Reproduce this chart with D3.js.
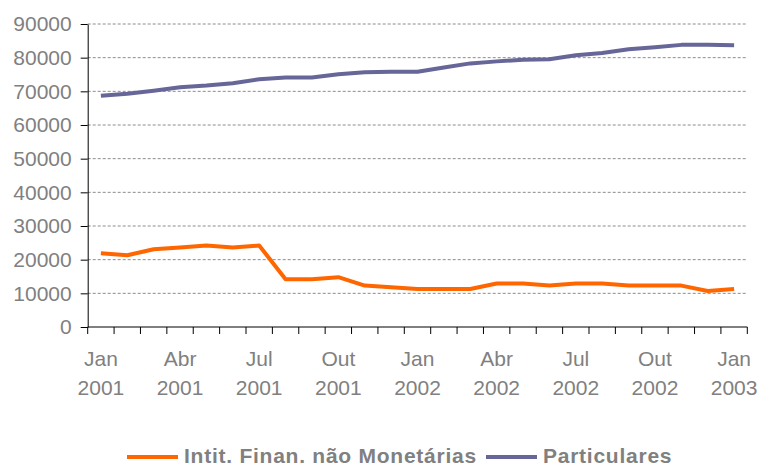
<!DOCTYPE html>
<html>
<head>
<meta charset="utf-8">
<script src="https://cdn.jsdelivr.net/npm/d3@7"></script>
<style>
	body { margin: 0; background: #fff; }
	text { font-family: "Liberation Sans", Arial, sans-serif; }
</style>
</head>
<body>
<svg id="chart" width="757" height="465"></svg>
<script>
// monthly categories, Jan 2001 - Jan 2003
var months = ["Jan","Fev","Mar","Abr","Mai","Jun","Jul","Ago","Set","Out","Nov","Dez"];
var categories = [];
for (var i = 0; i < 25; i++) {
	categories.push(months[i % 12] + " " + (2001 + Math.floor(i / 12)));
}

var tickLabels = ["Jan 2001","Abr 2001","Jul 2001","Out 2001","Jan 2002","Abr 2002","Jul 2002","Out 2002","Jan 2003"];

var intitFinan = [21900, 21300, 23100, 23600, 24200, 23600, 24200, 14200, 14200, 14800,
	12300, 11800, 11300, 11300, 11300, 12900, 12900, 12300, 12900, 12900,
	12300, 12300, 12300, 10700, 11300];

var particulares = [68700, 69300, 70200, 71200, 71700, 72400, 73600, 74100, 74100, 75100,
	75700, 75800, 75800, 77100, 78300, 78900, 79400, 79500, 80700, 81400,
	82500, 83100, 83800, 83800, 83700];

var yTicks = [0, 10000, 20000, 30000, 40000, 50000, 60000, 70000, 80000, 90000];

var series = [
	{ name: "Intit. Finan. não Monetárias", values: intitFinan, color: "#ff6600" },
	{ name: "Particulares", values: particulares, color: "#666699" }
];

(function () {
	var svg = d3.select("#chart");
	var plotLeft = 87.7, plotRight = 747.3, plotTop = 24, plotBottom = 327;

	var x = d3.scaleBand().domain(categories).range([plotLeft, plotRight]);
	var y = d3.scaleLinear().domain([0, 90000]).range([plotBottom, plotTop]);

	// gridlines
	svg.append("g").selectAll("line")
		.data(yTicks.slice(1))
		.enter().append("line")
		.attr("x1", plotLeft).attr("x2", plotRight)
		.attr("y1", function (d) { return y(d); })
		.attr("y2", function (d) { return y(d); })
		.attr("stroke", "#8c8c8c")
		.attr("stroke-width", 1)
		.attr("stroke-dasharray", "3,2");

	// y axis
	var yAxis = svg.append("g")
		.attr("transform", "translate(" + plotLeft + ",0)")
		.call(d3.axisLeft(y).tickValues(yTicks).tickSize(7).tickSizeOuter(0).tickPadding(9).tickFormat(d3.format("d")));
	yAxis.select(".domain").attr("stroke", "#000");
	yAxis.selectAll(".tick line").attr("stroke", "#000");
	yAxis.selectAll("text").attr("fill", "#808080").style("font-size", "21px");

	// x axis: ticks between categories
	var bounds = categories.map(function (c) { return x(c); }).concat([plotRight]);
	var xg = svg.append("g");
	xg.append("line")
		.attr("x1", plotLeft).attr("x2", plotRight)
		.attr("y1", plotBottom).attr("y2", plotBottom)
		.attr("stroke", "#000");
	xg.selectAll("line.tk")
		.data(bounds)
		.enter().append("line")
		.attr("class", "tk")
		.attr("x1", function (d) { return d; }).attr("x2", function (d) { return d; })
		.attr("y1", plotBottom).attr("y2", plotBottom + 7)
		.attr("stroke", "#000");

	var lab = xg.selectAll("text.lab")
		.data(tickLabels)
		.enter().append("text")
		.attr("class", "lab")
		.attr("text-anchor", "middle")
		.attr("fill", "#808080")
		.style("font-size", "21px")
		.attr("transform", function (d) { return "translate(" + (x(d) + x.bandwidth() / 2) + ",0)"; });
	lab.append("tspan").attr("x", 0).attr("y", 366).text(function (d) { return d.split(" ")[0]; });
	lab.append("tspan").attr("x", 0).attr("y", 395).text(function (d) { return d.split(" ")[1]; });

	// lines
	var line = d3.line()
		.x(function (d, i) { return x(categories[i]) + x.bandwidth() / 2; })
		.y(function (d) { return y(d); });

	svg.selectAll("path.series")
		.data(series)
		.enter().append("path")
		.attr("class", "series")
		.attr("d", function (d) { return line(d.values); })
		.attr("fill", "none")
		.attr("stroke", function (d) { return d.color; })
		.attr("stroke-width", 4)
		.attr("stroke-linejoin", "round");

	// legend
	var legendPos = [{ lx: 127, tx: 184 }, { lx: 486, tx: 543 }];
	var leg = svg.selectAll("g.legend")
		.data(series)
		.enter().append("g")
		.attr("class", "legend");
	leg.append("line")
		.attr("x1", function (d, i) { return legendPos[i].lx; })
		.attr("x2", function (d, i) { return legendPos[i].lx + 51; })
		.attr("y1", 457).attr("y2", 457)
		.attr("stroke", function (d) { return d.color; })
		.attr("stroke-width", 4);
	leg.append("text")
		.attr("x", function (d, i) { return legendPos[i].tx; })
		.attr("y", 463)
		.attr("fill", "#808080")
		.style("font-size", "21px")
		.style("letter-spacing", "0.75px")
		.style("font-weight", "bold")
		.text(function (d) { return d.name; });
})();
</script>
</body>
</html>
